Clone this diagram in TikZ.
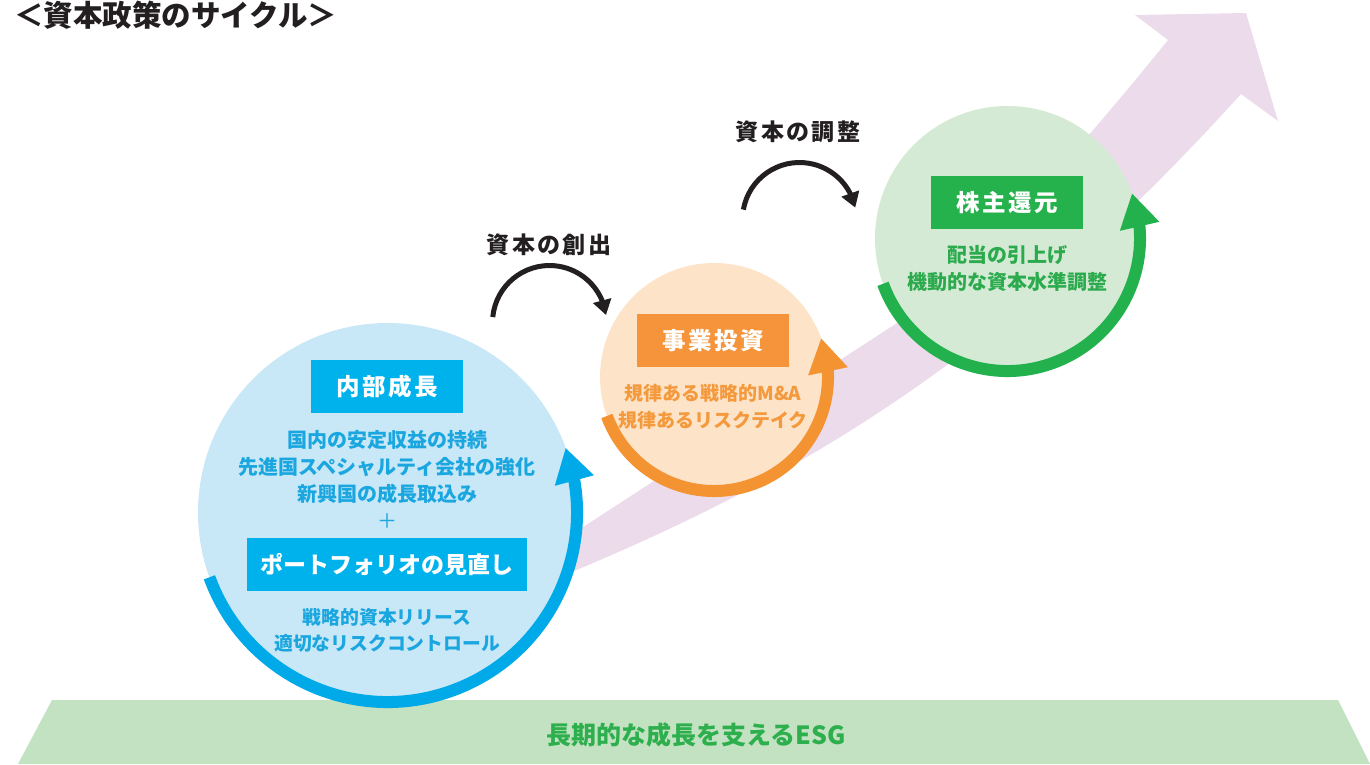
\documentclass[tikz,border=0pt]{standalone}
\usepackage{fontspec}
\setmainfont{Noto Sans CJK JP}
\usetikzlibrary{arrows.meta,bending}
\definecolor{bluering}{HTML}{00A9E8}
\definecolor{bluebox}{HTML}{00B2EC}
\definecolor{bluefill}{HTML}{C8E7F7}
\definecolor{bluetxt}{HTML}{1AA6DF}
\definecolor{orring}{HTML}{F39332}
\definecolor{orbox}{HTML}{F5943A}
\definecolor{orfill}{HTML}{FDE3C8}
\definecolor{ortxt}{HTML}{F4993C}
\definecolor{grring}{HTML}{23B14D}
\definecolor{grbox}{HTML}{25B14C}
\definecolor{grfill}{HTML}{D4EAD4}
\definecolor{grtxt}{HTML}{2BAA4E}
\definecolor{esgfill}{HTML}{C3E2C2}
\definecolor{esgtxt}{HTML}{2EAF4E}
\definecolor{bandc}{HTML}{ECDCEB}
\definecolor{ink}{HTML}{231F20}
\newfontfamily\spaced{Noto Sans CJK JP}[LetterSpace=10]
\begin{document}
\begin{tikzpicture}[x=1pt,y=-1pt,
  ringarrow/.style={line width=12pt,-{Triangle[width=38pt,length=34pt]}},
  blackarrow/.style={line width=5pt,ink,-{Triangle[width=18pt,length=15pt]}},
  titlebox/.style={rectangle,inner sep=0pt,minimum width=152pt,minimum height=53pt,text=white,font=\spaced\fontsize{23.5}{26}\selectfont\bfseries},
  bodytext/.style={inner sep=0pt,align=center,font=\fontsize{20}{27}\selectfont\bfseries},
  steplabel/.style={inner sep=0pt,text=ink,font=\spaced\fontsize{23}{26}\selectfont\bfseries}]
\useasboundingbox (0,0) rectangle (1370,764);
\clip (0,0) rectangle (1370,764);

% title
\node[anchor=west,inner sep=0pt,text=ink,font=\fontsize{29.5}{32}\selectfont\bfseries] (title) at (14,15) {＜資本政策のサイクル＞};

% ESG base
\fill[esgfill] (52,700) -- (1338,700) -- (1370,764) -- (18,764) -- cycle;
\node[inner sep=0pt,text=esgtxt,font=\fontsize{25}{28}\selectfont\bfseries] (esg) at (696,735) {長期的な成長を支えるESG};

% growth band
\fill[bandc] (540,585) .. controls (800,480) and (1000,360) .. (1241,94)
  -- (1278,121) -- (1246,13) -- (1135,15) -- (1168,40)
  .. controls (1105,118) and (980,268) .. (897,323) -- (540,555) -- cycle;

% centres
\coordinate (bc) at (387.5,512.5);
\coordinate (oc) at (714,377);
\coordinate (gc) at (1007.5,238.5);

% circles
\fill[bluefill] (bc) circle (189.5);
\fill[orfill] (oc) circle (114);
\fill[grfill] (gc) circle (132.5);

% rings
\draw[ringarrow,bluering] ([shift={(160:189.5)}]bc) arc[start angle=160,end angle=-20,radius=189.5];
\draw[ringarrow,orring] ([shift={(160:114)}]oc) arc[start angle=160,end angle=-20,radius=114];
\draw[ringarrow,grring] ([shift={(160:132.5)}]gc) arc[start angle=160,end angle=-20,radius=132.5];

% blue content
\node[titlebox,fill=bluebox] (naibu) at (387,386.5) {内部成長};
\node[bodytext,text=bluetxt] (naibutxt) at (387,479) {国内の安定収益の持続\\先進国スペシャルティ会社の強化\\新興国の成長取込み\\{\mdseries ＋}};
\node[titlebox,fill=bluebox,minimum width=280pt,font=\fontsize{23}{26}\selectfont\bfseries] (pf) at (387,564.5) {ポートフォリオの見直し};
\node[bodytext,text=bluetxt,font=\fontsize{18.8}{26}\selectfont\bfseries] (pftxt) at (387,630) {戦略的資本リリース\\適切なリスクコントロール};

% orange content
\node[titlebox,fill=orbox] (jigyo) at (713,340.5) {事業投資};
\node[bodytext,text=ortxt,font=\fontsize{19}{27}\selectfont\bfseries] (jigyotxt) at (713,406.5) {規律ある戦略的M\&A\\規律あるリスクテイク};

% green content
\node[titlebox,fill=grbox] (kabu) at (1007,202.5) {株主還元};
\node[bodytext,text=grtxt] (kabutxt) at (1007,268.5) {配当の引上げ\\機動的な資本水準調整};

% step labels and arrows
\node[steplabel] (sozo) at (549,245) {資本の創出};
\node[steplabel] (chosei) at (798,132) {資本の調整};
\coordinate (a1c) at (549.5,322.5);
\coordinate (a2c) at (799.5,219.5);
\draw[blackarrow] ([shift={(185.5:57)}]a1c) arc[start angle=185.5,end angle=352.5,radius=57];
\draw[blackarrow] ([shift={(190:57)}]a2c) arc[start angle=190,end angle=348,radius=57];
\end{tikzpicture}
\end{document}
